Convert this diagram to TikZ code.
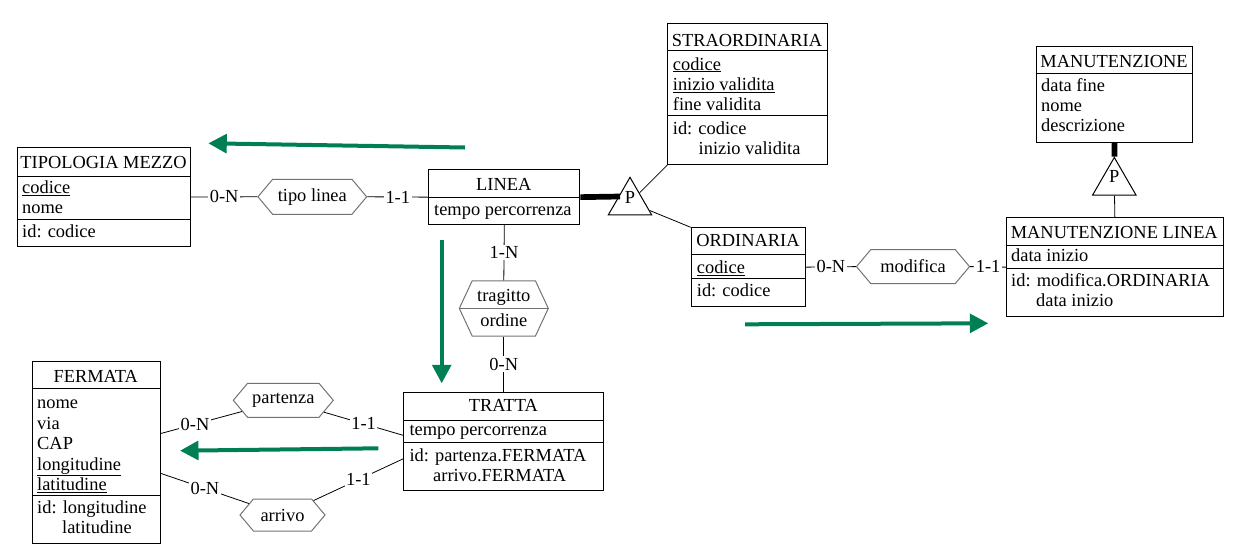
\documentclass[tikz,border=0pt]{standalone}
\usepackage{fontspec}
\setmainfont{Liberation Serif}
\usetikzlibrary{shapes.geometric,shapes.symbols,arrows.meta,calc}
\definecolor{grn}{RGB}{0,128,82}
\begin{document}
\begin{tikzpicture}[x=1pt,y=-1pt,
  font=\fontsize{18.4}{21}\selectfont,
  ent/.style={draw,line width=1,rectangle,inner sep=0,anchor=north west},
  dv/.style={line width=1},
  attr/.style={anchor=base west,inner sep=0},
  ttl/.style={anchor=base,inner sep=0},
  rel/.style={signal,signal to=east and west,signal pointer angle=100,draw=black!55,line width=1,inner sep=0},
  card/.style={fill=white,inner sep=1.5},
  lnk/.style={line width=0.8},
  isa/.style={regular polygon,regular polygon sides=3,draw,line width=1,inner sep=0,minimum size=50.1},
  thk/.style={line width=5.7},
  garrow/.style={draw=grn,line width=4,-{Triangle[length=18.5,width=18.7]}}
]
\useasboundingbox (0,0) rectangle (1250,555);

% TIPOLOGIA MEZZO
\node[ent,minimum width=173,minimum height=99] (tm) at (17,147) {};
\draw[dv] (17,176) -- (190,176);
\draw[dv] (17,219) -- (190,219);
\node[ttl] (tmt) at (103.5,168.3) {TIPOLOGIA MEZZO};
\node[attr] (tma) at (22,193.3) {\underline{codice}};
\node[attr] (tmb) at (22,213.8) {nome};
\node[attr] (tmc) at (22,237) {id: codice};

% LINEA
\node[ent,minimum width=151,minimum height=54.7] (linea) at (428.3,169.3) {};
\draw[dv] (428.3,197.3) -- (579.3,197.3);
\node[ttl] (lit) at (503.8,190.7) {LINEA};
\node[attr] (lia) at (434,215) {tempo percorrenza};

% STRAORDINARIA
\node[ent,minimum width=159.4,minimum height=140.7] (str) at (667.3,23.3) {};
\draw[dv] (667.3,50) -- (826.7,50);
\draw[dv] (667.3,115.7) -- (826.7,115.7);
\node[ttl] (stt) at (747,46) {STRAORDINARIA};
\node[attr] (sta) at (672.7,70) {\underline{codice}};
\node[attr] (stb) at (672.7,90.3) {\underline{inizio validita}};
\node[attr] (stc) at (672.7,110.7) {fine validita};
\node[attr] (std) at (672.7,134) {id: codice};
\node[attr] (ste) at (698.5,154) {inizio validita};

% MANUTENZIONE
\node[ent,minimum width=156.6,minimum height=95.7] (man) at (1035.7,46) {};
\draw[dv] (1035.7,73.3) -- (1192.3,73.3);
\node[ttl] (mat) at (1114,67.3) {MANUTENZIONE};
\node[attr] (maa) at (1041,91.7) {data fine};
\node[attr] (mab) at (1041,111.7) {nome};
\node[attr] (mac) at (1041,131.7) {descrizione};

% MANUTENZIONE LINEA
\node[ent,minimum width=216.7,minimum height=98.7] (ml) at (1006,217.3) {};
\draw[dv] (1006,245) -- (1222.7,245);
\draw[dv] (1006,268.3) -- (1222.7,268.3);
\node[ttl] (mlt) at (1114.3,238.3) {MANUTENZIONE LINEA};
\node[attr] (mla) at (1011,261.7) {data inizio};
\node[attr] (mlb) at (1011,286.7) {id: modifica.ORDINARIA};
\node[attr] (mlc) at (1036,306.7) {data inizio};

% ORDINARIA
\node[ent,minimum width=114.3,minimum height=78.7] (ord) at (690.7,227.3) {};
\draw[dv] (690.7,254.3) -- (805,254.3);
\draw[dv] (690.7,278.3) -- (805,278.3);
\node[ttl] (ort) at (748,246.7) {ORDINARIA};
\node[attr] (ora) at (696.7,273.3) {\underline{codice}};
\node[attr] (orb) at (696.7,296.5) {id: codice};

% TRATTA
\node[ent,minimum width=200,minimum height=98.3] (tratta) at (403.3,391.7) {};
\draw[dv] (403.3,420) -- (603.3,420);
\draw[dv] (403.3,442.3) -- (603.3,442.3);
\node[ttl] (trt) at (503.3,411.7) {TRATTA};
\node[attr] (tra) at (409.3,435) {tempo percorrenza};
\node[attr] (trb) at (409.3,461.2) {id: partenza.FERMATA};
\node[attr] (trc) at (433,481.7) {arrivo.FERMATA};

% FERMATA
\node[ent,minimum width=128.3,minimum height=182.3] (fer) at (31.7,361) {};
\draw[dv] (31.7,388.3) -- (160,388.3);
\draw[dv] (31.7,495) -- (160,495);
\node[ttl] (fet) at (95.8,382.3) {FERMATA};
\node[attr] (fea) at (37,408.3) {nome};
\node[attr] (feb) at (37,429) {via};
\node[attr] (fec) at (37,449.7) {CAP};
\node[attr] (fed) at (37,470.3) {\underline{longitudine}};
\node[attr] (fee) at (37,490.7) {\underline{latitudine}};
\node[attr] (fef) at (37,513.3) {id: longitudine};
\node[attr] (feg) at (62,533.3) {latitudine};

% relationships
\node[rel,minimum width=108.7,minimum height=35] (tl) at (312.3,196.8) {tipo linea};
\node[rel,minimum width=113,minimum height=34] (mod) at (913,266.6) {modifica};
\node[rel,minimum width=100,minimum height=34] (par) at (283.3,400.3) {partenza};
\node[rel,minimum width=85,minimum height=32] (arr) at (282.5,515) {arrivo};
\node[rel,signal pointer angle=130,minimum width=89,minimum height=55.3] (tr) at (503.8,308.4) {};
\draw[draw=black!55,line width=1] (tr.west) -- (tr.east);
\node[ttl] (tra1) at (503.8,301.7) {tragitto};
\node[ttl] (tra2) at (503.8,326) {ordine};

% ISA triangles
\node[isa] (p1) at (630,202.4) {};
\node[ttl] (p1t) at (630,203) {P};
\node[isa] (p2) at (1114.3,182.5) {};
\node[ttl] (p2t) at (1114.3,182) {P};
\coordinate (pj) at (620,196.5);
\draw[thk] (linea.east) -- (pj);
\draw[lnk] (p1) -- (str.south west);
\draw[lnk] (p1) -- (ord.north west);
\draw[thk] (man.south) -- (p2);
\draw[lnk] (p2) -- (ml.north);

% connectors
\draw[lnk] (tm.east) -- node[card]{0-N} (tl.west);
\draw[lnk] (tl.east) -- node[card]{1-1} (linea.west);
\draw[lnk] (linea.south) -- node[card]{1-N} (tr.north);
\draw[lnk] (tr.south) -- node[card]{0-N} (tratta.north);
\draw[lnk] (ord.east) -- node[card]{0-N} (mod.west);
\draw[lnk] (mod.east) -- node[card]{1-1} (ml.west);
\draw[lnk] ([yshift=19.2]fer.east) -- node[card,pos=0.42]{0-N} (par);
\draw[lnk] (par) -- node[card]{1-1} ([yshift=6]tratta.west);
\draw[lnk] ([yshift=-20.8]fer.east) -- node[card]{0-N} (arr);
\draw[lnk] (arr) -- node[card]{1-1} ([yshift=-17.4]tratta.west);

% green arrows
\coordinate (g1a) at (465,147.5);
\coordinate (g1b) at (208.3,143.3);
\coordinate (g2a) at (441.7,240);
\coordinate (g2b) at (441.7,383.3);
\coordinate (g3a) at (745,324.3);
\coordinate (g3b) at (988.3,323.3);
\coordinate (g4a) at (378.3,448.3);
\coordinate (g4b) at (180,450.7);
\draw[garrow] (g1a) -- (g1b);
\draw[garrow] (g2a) -- (g2b);
\draw[garrow] (g3a) -- (g3b);
\draw[garrow] (g4a) -- (g4b);
\end{tikzpicture}
\end{document}
